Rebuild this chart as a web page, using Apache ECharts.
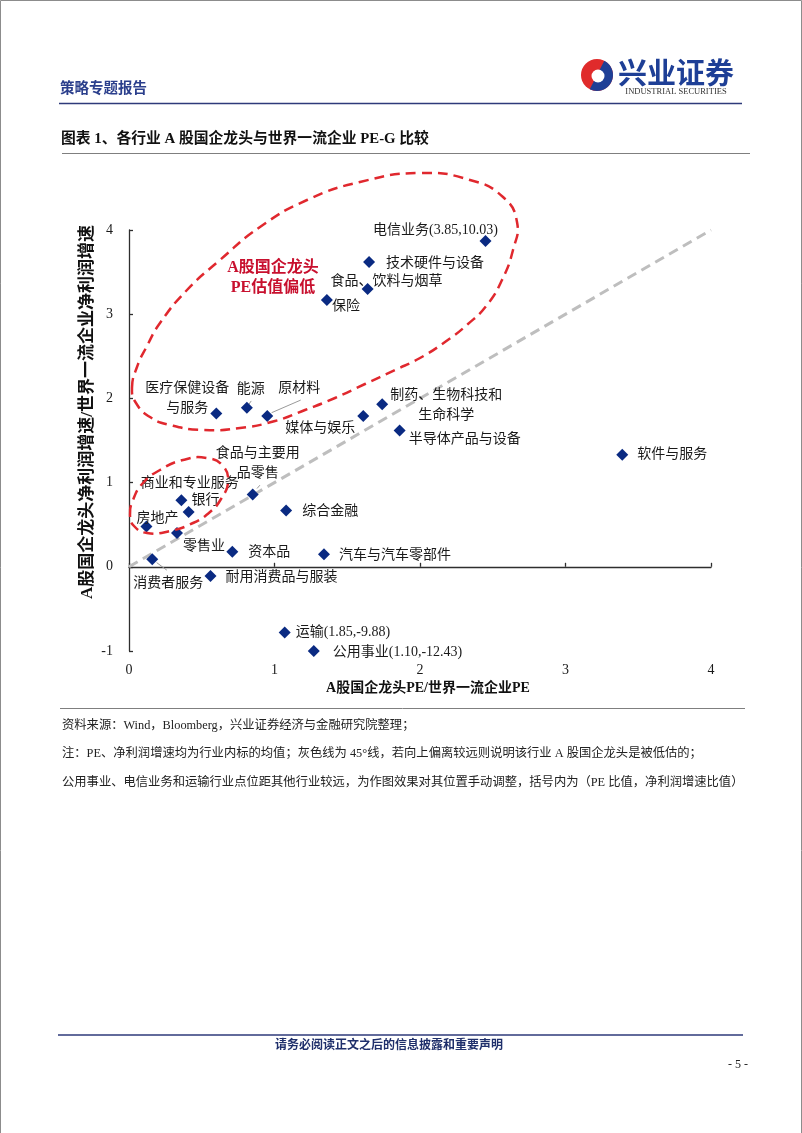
<!DOCTYPE html>
<html>
<head>
<meta charset="utf-8">
<script src="https://cdn.jsdelivr.net/npm/echarts@6/dist/echarts.min.js"></script>
<style>
html,body{margin:0;padding:0;background:#fff;}
#main{width:802px;height:1133px;}
</style>
</head>
<body>
<div id="main"></div>
<script>
// ---------------- data ----------------
const industries = ['电信业务','技术硬件与设备','食品、饮料与烟草','保险','医疗保健设备与服务','能源','原材料','媒体与娱乐','制药、生物科技和生命科学','半导体产品与设备','软件与服务','食品与主要用品零售','商业和专业服务','银行','房地产','零售业','综合金融','资本品','汽车与汽车零部件','消费者服务','耐用消费品与服装','运输','公用事业'];
const peRatio = [2.45,1.65,1.64,1.36,0.60,0.81,0.95,1.61,1.74,1.86,3.39,0.85,0.41,0.36,0.12,0.33,1.08,0.71,1.34,0.16,0.56,1.07,1.27];
const growthRatio = [3.87,3.62,3.30,3.17,1.82,1.89,1.79,1.79,1.93,1.62,1.33,0.86,0.65,0.79,0.48,0.40,0.67,0.18,0.15,0.09,-0.11,-0.78,-1.00];
const labelTexts = ['电信业务(3.85,10.03)','技术硬件与设备','食品、饮料与烟草','保险','医疗保健设备\n与服务','能源','原材料','媒体与娱乐','制药、生物科技和\n生命科学','半导体产品与设备','软件与服务','食品与主要用\n品零售','商业和专业服务','银行','房地产','零售业','综合金融','资本品','汽车与汽车零部件','消费者服务','耐用消费品与服装','运输(1.85,-9.88)','公用事业(1.10,-12.43)'];
const xTicks = [0,1,2,3,4];
const yTicks = [-1,0,1,2,3,4];
const diagonal = [[0,0],[4,4]];
const leaders = [
  [[0.98,1.83],[1.18,1.98]],
  [[0.82,1.92],[0.84,1.97]],
  [[0.88,0.93],[0.90,0.97]],
  [[0.19,0.05],[0.26,-0.04]]
];
const chartTitle = '图表 1、各行业 A 股国企龙头与世界一流企业 PE-G 比较';
const xName = 'A股国企龙头PE/世界一流企业PE';
const yName = 'A股国企龙头净利润增速/世界一流企业净利润增速';
const notes = ['资料来源：Wind，Bloomberg，兴业证券经济与金融研究院整理；',
  '注：PE、净利润增速均为行业内标的均值；灰色线为 45°线，若向上偏离较远则说明该行业 A 股国企龙头是被低估的；',
  '公用事业、电信业务和运输行业点位距其他行业较远，为作图效果对其位置手动调整，括号内为（PE 比值，净利润增速比值）'];

// ---------------- styling (label placement, px offsets from the marker) ----------------
const labelPlace = {
  '电信业务':['center',-50,-11],
  '技术硬件与设备':['left',17,1],
  '食品、饮料与烟草':['left',-37,-8],
  '保险':['left',5,6],
  '医疗保健设备与服务':['center',-29,-15],
  '能源':['center',4,-18],
  '原材料':['center',32,-28],
  '媒体与娱乐':['center',-43,12],
  '制药、生物科技和生命科学':['center',64,1],
  '半导体产品与设备':['left',9,9],
  '软件与服务':['left',15,0],
  '食品与主要用品零售':['center',5,-31],
  '商业和专业服务':['center',1,-29],
  '银行':['left',10,0],
  '房地产':['center',11,-8],
  '零售业':['center',27,13],
  '综合金融':['left',16,1],
  '资本品':['left',16,1],
  '汽车与汽车零部件':['left',15,1],
  '消费者服务':['center',16,24],
  '耐用消费品与服装':['left',15,1],
  '运输':['left',11,0],
  '公用事业':['left',19,1]
};
const FONT = "'Liberation Serif','Noto Sans CJK SC',serif";
const NAVY = '#0A2A82';
const RED = '#E0282E';

const scatterData = industries.map((n,i)=>{
  const p = labelPlace[n];
  return {
    name:n,
    value:[peRatio[i], growthRatio[i]],
    label:{show:true, position:'inside', align:p[0], verticalAlign:'middle', offset:[p[1],p[2]], formatter:labelTexts[i]}
  };
});

const series = [
  {type:'line', data:diagonal, symbol:'none', silent:true, z:1,
   lineStyle:{color:'#BEBEBE', width:3, type:[10,6]}},
];
leaders.forEach(l=>series.push({type:'line', data:l, symbol:'none', silent:true, z:1,
  lineStyle:{color:'#9A9A9A', width:1}}));
series.push({type:'scatter', data:scatterData, symbol:'diamond', symbolSize:12, z:5,
  itemStyle:{color:NAVY, opacity:1},
  label:{color:'#1A1A1A', fontSize:14, fontFamily:FONT, lineHeight:20}});

// ellipse outlines (annotation, pixel space)
const bigEllipse = [[132,388],[137,367],[147,346],[160,323],[187,290],[220,260],[260,227],[307,200],[360,182],[420,173],[470,180],[503,197],[517,222],[513,250],[502,280],[487,305],[468,324],[445,342],[420,358],[395,370],[365,384],[335,398],[305,410],[275,421],[240,428],[203,430],[170,425],[150,417],[136,403]];
const smallEllipse = [[130,515],[133,500],[143,483],[160,470],[183,460],[207,458],[223,466],[228,482],[221,499],[210,512],[193,523],[170,531],[147,533],[134,526]];

const chart = echarts.init(document.getElementById('main'), null, {renderer:'canvas'});
const axisColor = '#2E2E2E';
chart.setOption({
  backgroundColor:'#fff',
  animation:false,
  grid:{left:129, right:91, top:230, bottom:482},
  xAxis:[
    {type:'value', min:0, max:4, interval:1,
     axisLine:{show:true, onZero:true, lineStyle:{color:axisColor, width:1.3}},
     axisTick:{show:true, inside:true, length:4, lineStyle:{color:axisColor, width:1.3}},
     axisLabel:{show:false}, splitLine:{show:false}},
    {type:'value', min:0, max:4, interval:1, position:'bottom',
     axisLine:{show:false, onZero:false}, axisTick:{show:false}, splitLine:{show:false},
     axisLabel:{show:true, margin:12, color:'#1A1A1A', fontSize:14, fontFamily:FONT,
       formatter:v=>xTicks.includes(v)?String(v):''}}
  ],
  yAxis:{type:'value', min:-1, max:4, interval:1,
    axisLine:{show:true, lineStyle:{color:axisColor, width:1.3}},
    axisTick:{show:true, inside:true, length:4, lineStyle:{color:axisColor, width:1.3}},
    axisLabel:{margin:16, color:'#1A1A1A', fontSize:14, fontFamily:FONT,
      formatter:v=>yTicks.includes(v)?String(v):''},
    splitLine:{show:false}},
  series:series,
  graphic:[
    // page border
    {type:'rect', shape:{x:0.5,y:0.5,width:801,height:1140}, style:{fill:null, stroke:'#8C8C8C', lineWidth:1}, silent:true},
    // header
    {type:'text', x:60, y:87, style:{text:'策略专题报告', fill:'#2B3F8C', font:"bold 14.5px 'Noto Sans CJK SC'", textVerticalAlign:'middle'}},
    {type:'circle', shape:{cx:597,cy:75,r:16}, style:{fill:'#E02B2B'}},
    {type:'sector', shape:{cx:597,cy:75,r:16,r0:0,startAngle:-Math.PI*0.35,endAngle:Math.PI*0.65}, style:{fill:'#1E3F96'}},
    {type:'circle', shape:{cx:598,cy:76,r:6.5}, style:{fill:'#fff'}},
    {type:'text', x:676, y:73, style:{text:'兴业证券', fill:'#1E3F96', font:"bold 29px 'Noto Sans CJK SC'", textAlign:'center', textVerticalAlign:'middle'}},
    {type:'text', x:676, y:92, style:{text:'INDUSTRIAL SECURITIES', fill:'#333', font:"8.5px 'Liberation Serif'", textAlign:'center', textVerticalAlign:'middle'}},
    {type:'line', shape:{x1:59,y1:103.5,x2:742,y2:103.5}, style:{stroke:'#2E3A7A', lineWidth:1.5}},
    // chart title
    {type:'text', x:61, y:139, style:{text:chartTitle, fill:'#111', font:"bold 14.8px 'Liberation Serif','Noto Sans CJK SC'", textVerticalAlign:'middle'}},
    {type:'line', shape:{x1:62,y1:153.5,x2:750,y2:153.5}, style:{stroke:'#7F7F7F', lineWidth:1}},
    // axis names
    {type:'text', x:428, y:688, style:{text:xName, fill:'#111', font:"bold 14px 'Liberation Serif','Noto Sans CJK SC'", textAlign:'center', textVerticalAlign:'middle'}},
    {type:'text', x:88, y:412, rotation:Math.PI/2, style:{text:yName, fill:'#111', font:"bold 17px 'Liberation Serif','Noto Sans CJK SC'", textAlign:'center', textVerticalAlign:'middle'}},
    // annotation
    {type:'text', x:273, y:268, style:{text:'A股国企龙头', fill:'#C8102E', font:"bold 16px 'Liberation Serif','Noto Sans CJK SC'", textAlign:'center', textVerticalAlign:'middle'}},
    {type:'text', x:273, y:288, style:{text:'PE估值偏低', fill:'#C8102E', font:"bold 16px 'Liberation Serif','Noto Sans CJK SC'", textAlign:'center', textVerticalAlign:'middle'}},
    {type:'polygon', shape:{points:bigEllipse, smooth:0.5}, style:{fill:null, stroke:RED, lineWidth:2.5, lineDash:[10,6]}, silent:true, z:10},
    {type:'polygon', shape:{points:smallEllipse, smooth:0.5}, style:{fill:null, stroke:RED, lineWidth:2.5, lineDash:[10,6]}, silent:true, z:10},
    // notes
    {type:'line', shape:{x1:60,y1:708.5,x2:745,y2:708.5}, style:{stroke:'#7F7F7F', lineWidth:1}},
    {type:'text', x:62, y:726, style:{text:notes[0], fill:'#222', font:"12.3px 'Liberation Serif','Noto Sans CJK SC'", textVerticalAlign:'middle'}},
    {type:'text', x:62, y:754, style:{text:notes[1], fill:'#222', font:"12.3px 'Liberation Serif','Noto Sans CJK SC'", textVerticalAlign:'middle'}},
    {type:'text', x:62, y:783, style:{text:notes[2], fill:'#222', font:"12.3px 'Liberation Serif','Noto Sans CJK SC'", textVerticalAlign:'middle'}},
    // footer
    {type:'line', shape:{x1:58,y1:1035,x2:743,y2:1035}, style:{stroke:'#2E3A7A', lineWidth:1.5}},
    {type:'text', x:389, y:1044, style:{text:'请务必阅读正文之后的信息披露和重要声明', fill:'#1F2F6B', font:"bold 12px 'Noto Sans CJK SC'", textAlign:'center', textVerticalAlign:'middle'}},
    {type:'text', x:738, y:1065, style:{text:'- 5 -', fill:'#222', font:"12px 'Liberation Serif'", textAlign:'center', textVerticalAlign:'middle'}}
  ]
});
</script>
</body>
</html>
